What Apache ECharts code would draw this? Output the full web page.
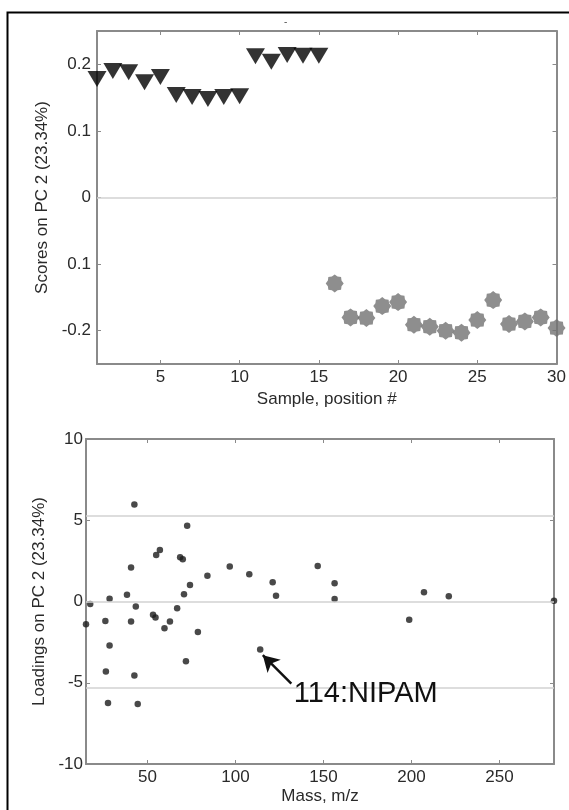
<!DOCTYPE html>
<html><head><meta charset="utf-8">
<script src="https://cdn.jsdelivr.net/npm/echarts@6/dist/echarts.min.js"></script>
<style>html,body{margin:0;padding:0;background:#fff}#c{width:569px;height:810px}</style>
</head><body><div id="c"></div>
<script>
// ---- data ----
const samplesA = [1,2,3,4,5,6,7,8,9,10,11,12,13,14,15];
const scoresA = [0.178,0.190,0.188,0.173,0.181,0.154,0.151,0.148,0.151,0.152,0.212,0.204,0.214,0.213,0.213];
const samplesB = [16,17,18,19,20,21,22,23,24,25,26,27,28,29,30];
const scoresB = [-0.129,-0.180,-0.181,-0.163,-0.157,-0.191,-0.194,-0.200,-0.203,-0.184,-0.154,-0.190,-0.186,-0.180,-0.196];
const topXTicks = [5,10,15,20,25,30];
const topYTicks = [-0.2,-0.1,0,0.1,0.2];
const topYTickLabels = ['-0.2','0.1','0','0.1','0.2'];
const topTitle = '-';
const topXName = 'Sample, position #';
const topYName = 'Scores on PC 2 (23.34%)';

const massValues = [15,17.4,26,26.3,27.5,28.4,28.4,38.3,40.6,40.6,42.5,42.5,43.3,44.4,53.1,54.5,54.9,57,59.6,62.7,66.8,68.5,70,70.7,71.8,72.5,74.1,78.6,84,96.7,107.8,114,121.1,123,146.7,156.3,156.3,198.7,207.1,221.2,281];
const loadingValues = [-1.4,-0.16,-1.2,-4.3,-6.25,0.17,-2.7,0.41,2.1,-1.23,5.97,-4.56,-0.31,-6.3,-0.82,-0.98,2.86,3.17,-1.64,-1.23,-0.41,2.72,2.6,0.45,-3.68,4.66,1.02,-1.88,1.59,2.15,1.67,-2.95,1.19,0.35,2.19,1.12,0.16,-1.12,0.57,0.33,0.05];
const bottomXTicks = [50,100,150,200,250];
const bottomYTicks = [-10,-5,0,5,10];
const limitLines = [-5.3,0,5.3];
const bottomXName = 'Mass, m/z';
const bottomYName = 'Loadings on PC 2 (23.34%)';
const annotationText = '114:NIPAM';
const arrowFrom = [131.7,-5.05];
const arrowTo = [115.5,-3.3];
const annotationAt = [174,-5.69];

// ---- styles ----
const FONT = '"Liberation Sans", Arial, sans-serif';
const FRAME = '#8a8a8a';
const LABEL = '#2a2a2a';
function starPath(){
  let p = [];
  for (let k=0;k<16;k++){
    const a = k*Math.PI/8, r = (k%2===0)?50:41;
    p.push((k?'L':'M')+(50+r*Math.cos(a)).toFixed(2)+' '+(50+r*Math.sin(a)).toFixed(2));
  }
  return 'path://'+p.join(' ')+' Z';
}
function near(v,t){return Math.abs(v-t)<1e-9;}
function xAxisCfg(grid,min,max,ticks,pos,name,showLabels,nameGap){
  return {type:'value',gridIndex:grid,min:min,max:max,position:pos,
    name: showLabels?name:'', nameLocation:'middle', nameGap:nameGap,
    nameTextStyle:{fontFamily:FONT,fontSize:17,color:LABEL},
    axisLine:{show:true,onZero:false,lineStyle:{color:FRAME,width:2}},
    axisTick:{show:true,inside:true,length:4,customValues:ticks,lineStyle:{color:FRAME,width:1}},
    axisLabel:{show:showLabels,customValues:ticks,margin:5,fontFamily:FONT,fontSize:17,color:LABEL},
    splitLine:{show:false}};
}
function yAxisCfg(grid,min,max,ticks,labels,pos,name,showLabels,nameGap,margin){
  return {type:'value',gridIndex:grid,min:min,max:max,position:pos,
    name: showLabels?name:'', nameLocation:'middle', nameGap:nameGap,
    nameTextStyle:{fontFamily:FONT,fontSize:17,color:LABEL},
    axisLine:{show:true,onZero:false,lineStyle:{color:FRAME,width:2}},
    axisTick:{show:true,inside:true,length:4,customValues:ticks,lineStyle:{color:FRAME,width:1}},
    axisLabel:{show:showLabels,customValues:ticks,margin:margin,fontFamily:FONT,fontSize:17,color:LABEL,
      formatter:function(v){ if(!labels) return String(v); for(let i=0;i<ticks.length;i++){ if(near(v,ticks[i])) return labels[i]; } return ''; }},
    splitLine:{show:false}};
}

const chart = echarts.init(document.getElementById('c'), null, {renderer:'canvas'});
chart.setOption({
  animation:false,
  backgroundColor:'#ffffff',
  title:{text:topTitle,left:279,top:12,textStyle:{fontFamily:FONT,fontSize:10,color:'#555',fontWeight:'normal'}},
  graphic:[{type:'polyline',shape:{points:[[7.5,810],[7.5,12.5],[569,12.5]]},style:{stroke:'#000',lineWidth:2,fill:null},z:100}],
  grid:[
    {left:97,right:10,top:31,height:333},
    {left:86,right:15,top:439,height:325}
  ],
  xAxis:[
    xAxisCfg(0,1,30,topXTicks,'bottom',topXName,true,27),
    xAxisCfg(0,1,30,topXTicks.filter(v=>v<30),'top','',false,0),
    xAxisCfg(1,15,281,bottomXTicks,'bottom',bottomXName,true,24),
    xAxisCfg(1,15,281,bottomXTicks,'top','',false,0)
  ],
  yAxis:[
    yAxisCfg(0,-0.25,0.25,topYTicks,topYTickLabels,'left',topYName,true,43,6),
    yAxisCfg(0,-0.25,0.25,topYTicks,null,'right','',false,0,0),
    yAxisCfg(1,-10,10,bottomYTicks,null,'left',bottomYName,true,24,3),
    yAxisCfg(1,-10,10,bottomYTicks,null,'right','',false,0,0)
  ],
  series:[
    {type:'scatter',xAxisIndex:0,yAxisIndex:0,
      data:samplesB.map((s,i)=>[s,scoresB[i]]),
      symbol:starPath(),symbolSize:18,itemStyle:{color:'#727272'},
      markLine:{silent:true,symbol:'none',label:{show:false},
        lineStyle:{color:'#d2d2d2',width:1.5,type:'solid'},data:[{yAxis:0}]}},
    {type:'scatter',xAxisIndex:0,yAxisIndex:0,
      data:samplesA.map((s,i)=>[s,scoresA[i]]),
      symbol:'triangle',symbolRotate:180,symbolSize:[19,16],itemStyle:{color:'#000000'},z:3},
    {type:'scatter',xAxisIndex:2,yAxisIndex:2,
      data:massValues.map((m,i)=>[m,loadingValues[i]]),
      symbol:'circle',symbolSize:6.5,itemStyle:{color:'#1c1c1c'},z:3,
      markLine:{silent:true,symbol:'none',label:{show:false},
        lineStyle:{color:'#d2d2d2',width:1.5,type:'solid'},
        data:limitLines.map(v=>({yAxis:v}))}},
    {type:'scatter',xAxisIndex:2,yAxisIndex:2,data:[],
      markLine:{silent:true,label:{show:false},symbolSize:[14,16],
        lineStyle:{color:'#111',width:2.5,type:'solid'},
        data:[[{coord:arrowFrom,symbol:'none'},{coord:arrowTo,symbol:'arrow'}]]},
      markPoint:{silent:true,symbol:'circle',symbolSize:0,
        label:{show:true,position:'inside',formatter:annotationText,fontFamily:FONT,fontSize:29,color:'#111'},
        data:[{coord:annotationAt}]}}
  ]
});
</script></body></html>
